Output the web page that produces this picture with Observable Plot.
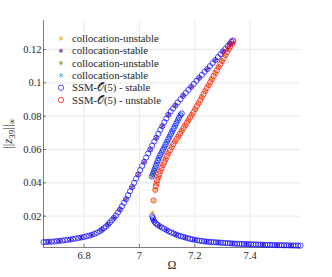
<!DOCTYPE html>
<html><head><meta charset="utf-8">
<script src="https://cdn.jsdelivr.net/npm/d3@7"></script>
<script src="https://cdn.jsdelivr.net/npm/@observablehq/plot@0.6"></script>
<style>body{margin:0;background:#fff;} svg{display:block}</style>
</head><body><div id="chart"></div>
<script>
// ---- axis setup ----
const xDomain = [6.6533, 7.5818];
const yDomain = [0.0012, 0.1374];
const xTicks = [6.8, 7, 7.2, 7.4];
const yTicks = [0.02, 0.04, 0.06, 0.08, 0.1, 0.12];
const xLabel = "Ω";
const legendLabels = ["collocation-unstable", "collocation-stable", "collocation-unstable", "collocation-stable", "SSM-𝒪(5) - stable", "SSM-𝒪(5) - unstable"];
const legendColors = ["#EDB120", "#7E2F8E", "#77AC30", "#4DBEEE", "#0000FF", "#FF0000"];

// ---- SSM-O(5) stable, branch rising to upper fold ----
const omegaStableA = [6.6533,6.6630,6.6727,6.6824,6.6921,6.7018,6.7115,6.7212,6.7309,6.7406,6.7503,6.7600,6.7697,6.7794,6.7891,6.7988,6.8085,6.8182,6.8279,6.8376,6.8473,6.8570,6.8642,6.8715,6.8788,6.8861,6.8933,6.9006,6.9079,6.9152,6.9224,6.9297,6.9370,6.9442,6.9515,6.9588,6.9661,6.9733,6.9806,6.9879,6.9952,7.0024,7.0097,7.0170,7.0242,7.0315,7.0388,7.0461,7.0533,7.0606,7.0679,7.0752,7.0824,7.0897,7.0970,7.1042,7.1127,7.1212,7.1297,7.1382,7.1479,7.1576,7.1673,7.1770,7.1867,7.1964,7.2061,7.2158,7.2255,7.2352,7.2448,7.2545,7.2642,7.2739,7.2836,7.2933,7.3018,7.3103,7.3188,7.3261,7.3321,7.3370];
const ampStableA = [0.0044,0.0045,0.0046,0.0047,0.0048,0.0050,0.0052,0.0054,0.0056,0.0058,0.0060,0.0063,0.0066,0.0069,0.0072,0.0075,0.0079,0.0083,0.0088,0.0094,0.0101,0.0110,0.0118,0.0128,0.0138,0.0150,0.0162,0.0176,0.0190,0.0204,0.0222,0.0240,0.0260,0.0280,0.0302,0.0326,0.0350,0.0374,0.0400,0.0426,0.0450,0.0476,0.0502,0.0526,0.0552,0.0576,0.0600,0.0624,0.0648,0.0670,0.0694,0.0718,0.0740,0.0764,0.0786,0.0808,0.0828,0.0846,0.0864,0.0882,0.0902,0.0922,0.0940,0.0958,0.0976,0.0994,0.1012,0.1030,0.1048,0.1066,0.1082,0.1100,0.1118,0.1136,0.1154,0.1172,0.1188,0.1204,0.1220,0.1234,0.1246,0.1254];

// ---- SSM-O(5) stable, lower right branch ----
const omegaStableB = [7.0461,7.0485,7.0509,7.0545,7.0594,7.0655,7.0727,7.0812,7.0897,7.0982,7.1067,7.1152,7.1236,7.1321,7.1406,7.1491,7.1576,7.1661,7.1745,7.1830,7.1915,7.2000,7.2085,7.2170,7.2255,7.2339,7.2424,7.2509,7.2594,7.2679,7.2764,7.2848,7.2933,7.3018,7.3103,7.3188,7.3273,7.3358,7.3442,7.3527,7.3612,7.3697,7.3782,7.3867,7.3952,7.4036,7.4121,7.4206,7.4291,7.4376,7.4461,7.4545,7.4630,7.4715,7.4800,7.4885,7.4970,7.5055,7.5139,7.5224,7.5309,7.5394,7.5479,7.5564,7.5648,7.5733,7.5818];
const ampStableB = [0.0200,0.0188,0.0176,0.0166,0.0156,0.0148,0.0140,0.0132,0.0124,0.0116,0.0108,0.0102,0.0096,0.0090,0.0084,0.0080,0.0076,0.0072,0.0068,0.0064,0.0061,0.0058,0.0055,0.0053,0.0051,0.0049,0.0047,0.0046,0.0045,0.0044,0.0043,0.0042,0.0041,0.0040,0.0039,0.0038,0.0037,0.0036,0.0035,0.0034,0.0034,0.0033,0.0033,0.0032,0.0032,0.0031,0.0031,0.0030,0.0030,0.0029,0.0029,0.0028,0.0028,0.0028,0.0027,0.0027,0.0026,0.0026,0.0026,0.0025,0.0025,0.0025,0.0024,0.0024,0.0024,0.0023,0.0023];

// ---- SSM-O(5) stable, short inner segment ----
const omegaStableD = [7.0448,7.0485,7.0521,7.0558,7.0594,7.0630,7.0667,7.0703,7.0752,7.0800,7.0848,7.0897,7.0945,7.0994,7.1042,7.1091,7.1139,7.1188,7.1236,7.1285,7.1333,7.1382,7.1430,7.1479,7.1527];
const ampStableD = [0.0438,0.0454,0.0470,0.0486,0.0502,0.0518,0.0534,0.0550,0.0566,0.0582,0.0598,0.0614,0.0630,0.0646,0.0662,0.0678,0.0694,0.0710,0.0726,0.0742,0.0758,0.0774,0.0790,0.0806,0.0816];

// ---- SSM-O(5) unstable branch ----
const omegaUnstable = [7.3394,7.3345,7.3285,7.3224,7.3164,7.3103,7.3042,7.2982,7.2921,7.2861,7.2800,7.2739,7.2679,7.2618,7.2558,7.2497,7.2436,7.2376,7.2315,7.2255,7.2194,7.2133,7.2073,7.2012,7.1952,7.1891,7.1830,7.1770,7.1709,7.1648,7.1588,7.1527,7.1467,7.1406,7.1345,7.1285,7.1224,7.1164,7.1103,7.1042,7.0994,7.0945,7.0897,7.0848,7.0800,7.0752,7.0715,7.0679,7.0642,7.0618,7.0594,7.0570,7.0509];
const ampUnstable = [0.1250,0.1234,0.1218,0.1202,0.1184,0.1166,0.1148,0.1130,0.1112,0.1094,0.1076,0.1058,0.1040,0.1022,0.1004,0.0986,0.0968,0.0950,0.0932,0.0914,0.0896,0.0878,0.0860,0.0842,0.0824,0.0808,0.0792,0.0776,0.0760,0.0744,0.0728,0.0712,0.0696,0.0680,0.0664,0.0648,0.0632,0.0614,0.0596,0.0578,0.0560,0.0542,0.0524,0.0506,0.0488,0.0470,0.0452,0.0434,0.0416,0.0398,0.0380,0.0358,0.0294];

// ---- collocation points ----
const omegaCollocUnst1 = [7.3345,7.3224,7.3103,7.2982,7.2861,7.2739,7.2618,7.2497,7.2376,7.2255,7.2133,7.2012,7.1891,7.1770,7.1648,7.1527,7.1406,7.1285,7.1164,7.1042,7.0945,7.0848,7.0752,7.0679,7.0618,7.0570,7.0509,7.0473];
const ampCollocUnst1 = [0.1234,0.1202,0.1166,0.1130,0.1094,0.1058,0.1022,0.0986,0.0950,0.0914,0.0878,0.0842,0.0808,0.0776,0.0744,0.0712,0.0680,0.0648,0.0614,0.0578,0.0542,0.0506,0.0470,0.0434,0.0398,0.0358,0.0294,0.0222];
const omegaCollocStab1 = [6.6727,6.7115,6.7503,6.7891,6.8279,6.8642,6.8861,6.9079,6.9297,6.9515,6.9733,6.9952,7.0170,7.0388,7.0606,7.0824,7.1042,7.1297,7.1576,7.1867,7.2158,7.2448,7.2739,7.3018,7.3261,7.0509,7.0727,7.0982,7.1321,7.1661,7.2000,7.2424,7.2848,7.3358,7.3867,7.4461,7.4970,7.5479];
const ampCollocStab1 = [0.0046,0.0052,0.0060,0.0072,0.0088,0.0118,0.0150,0.0190,0.0240,0.0302,0.0374,0.0450,0.0526,0.0600,0.0670,0.0740,0.0808,0.0864,0.0922,0.0976,0.1030,0.1082,0.1136,0.1188,0.1234,0.0176,0.0140,0.0116,0.0090,0.0072,0.0058,0.0047,0.0042,0.0036,0.0032,0.0029,0.0026,0.0024];
const omegaCollocUnst2 = [7.0448,7.0485,7.0521];
const ampCollocUnst2 = [0.0438,0.0454,0.0470];
const omegaCollocStab2 = [7.0558,7.0630,7.0703,7.0800,7.0897,7.0994,7.1091,7.1188,7.1285,7.1382,7.1479];
const ampCollocStab2 = [0.0486,0.0518,0.0550,0.0582,0.0614,0.0646,0.0678,0.0710,0.0742,0.0774,0.0806];

const mk = (xs, ys) => xs.map((x, i) => ({omega: x, amp: ys[i]}));
const stableData = [...mk(omegaStableA, ampStableA), ...mk(omegaStableD, ampStableD), ...mk(omegaStableB, ampStableB)];
const unstableData = mk(omegaUnstable, ampUnstable);

const axisColor = "#262626";
const star = (xs, ys, c) => Plot.dot(mk(xs, ys), {x: "omega", y: "amp", symbol: "asterisk", r: 2.2, stroke: c, strokeWidth: 0.9});

const chart = Plot.plot({
  width: 332, height: 277,
  marginLeft: 43, marginRight: 32, marginTop: 20, marginBottom: 30,
  style: {background: "#fff", fontFamily: "'Liberation Serif', serif", fontSize: "10.5px", color: axisColor},
  x: {domain: xDomain},
  y: {domain: yDomain},
  marks: [
    Plot.gridX(xTicks, {stroke: "#e4e4e4", strokeOpacity: 1, strokeWidth: 0.8}),
    Plot.gridY(yTicks, {stroke: "#e4e4e4", strokeOpacity: 1, strokeWidth: 0.8}),
    Plot.axisX(xTicks, {tickSize: -3, tickPadding: 7, tickFormat: d => String(d), label: null, strokeWidth: 0.6}),
    Plot.axisY(yTicks, {tickSize: -3, tickPadding: 5, tickFormat: d => String(d), label: null, strokeWidth: 0.6}),
    Plot.ruleX([xDomain[0]], {stroke: axisColor, strokeWidth: 0.6}),
    Plot.ruleY([yDomain[0]], {stroke: axisColor, strokeWidth: 0.6}),
    star(omegaCollocUnst1, ampCollocUnst1, legendColors[0]),
    star(omegaCollocStab1, ampCollocStab1, legendColors[1]),
    star(omegaCollocUnst2, ampCollocUnst2, legendColors[2]),
    star(omegaCollocStab2, ampCollocStab2, legendColors[3]),
    Plot.dot(stableData, {x: "omega", y: "amp", r: 2.6, stroke: legendColors[4], strokeWidth: 0.7, fill: "none"}),
    Plot.dot(unstableData, {x: "omega", y: "amp", r: 2.6, stroke: legendColors[5], strokeWidth: 0.7, fill: "none"}),
    Plot.text([xLabel], {frameAnchor: "bottom", dy: 21, fontSize: 12, fill: axisColor})
  ]
});
document.getElementById("chart").append(chart);

const svg = d3.select(chart);
// y label ||z_39||_inf
const yl = svg.append("text").attr("transform", "translate(12,133.5) rotate(-90)")
  .attr("text-anchor", "middle").attr("font-size", 13).attr("fill", axisColor)
  .attr("font-family", "'Liberation Serif', serif");
yl.append("tspan").text("||");
yl.append("tspan").attr("font-style", "italic").text("z");
yl.append("tspan").attr("font-size", 9).attr("dy", 2.5).text("39");
yl.append("tspan").attr("dy", -2.5).text("||");
yl.append("tspan").attr("font-size", 9).attr("dy", 2.5).text("∞");

// legend
const lg = svg.append("g").attr("font-family", "'Liberation Serif', serif").attr("font-size", 10.7).attr("fill", axisColor).attr("text-anchor", "start");
legendLabels.forEach((lab, i) => {
  const cy = 38.5 + i * 12.3;
  if (i < 4) {
    lg.append("path").attr("transform", `translate(61,${cy})`)
      .attr("d", d3.symbol(d3.symbolAsterisk, Math.PI * 4.8)())
      .attr("stroke", legendColors[i]).attr("stroke-width", 0.9).attr("fill", "none");
  } else {
    lg.append("circle").attr("cx", 61).attr("cy", cy).attr("r", 2.7)
      .attr("stroke", legendColors[i]).attr("stroke-width", 0.7).attr("fill", "none");
  }
  lg.append("text").attr("x", 72).attr("y", cy + 3.6).attr("text-anchor", "start").text(lab);
});
</script></body></html>
